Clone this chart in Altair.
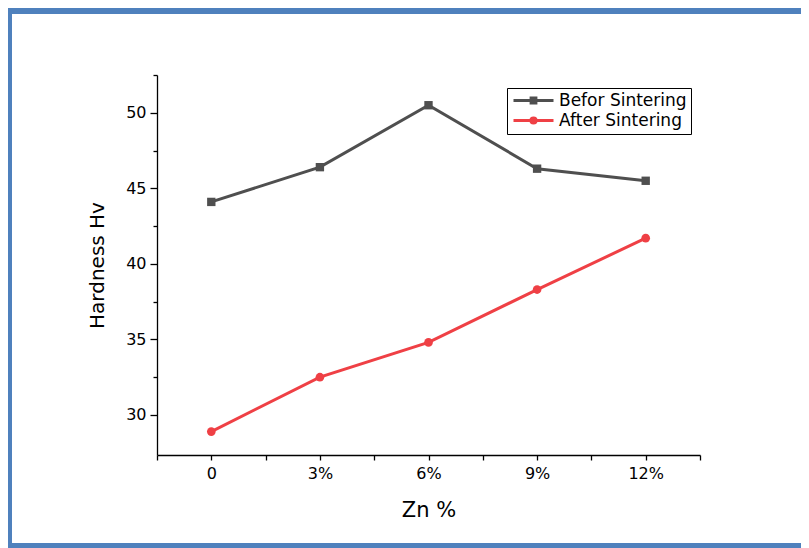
import altair as alt
import pandas as pd

# ---- data ----
zn_labels = ['0', '3%', '6%', '9%', '12%']
befor_sintering = [44.1, 46.4, 50.5, 46.3, 45.5]
after_sintering = [28.9, 32.5, 34.8, 38.3, 41.7]
series_names = ['Befor Sintering', 'After Sintering']
series_colors = ['#4f4f4f', '#ef4045']
x_tick_values = [-0.5, 0, 0.5, 1, 1.5, 2, 2.5, 3, 3.5, 4, 4.5]
y_tick_values = [30, 32.5, 35, 37.5, 40, 42.5, 45, 47.5, 50, 52.5]

rows = []
for i, lab in enumerate(zn_labels):
    rows.append({'idx': i, 'zn': lab, 'series': series_names[0], 'hv': befor_sintering[i]})
    rows.append({'idx': i, 'zn': lab, 'series': series_names[1], 'hv': after_sintering[i]})
df = pd.DataFrame(rows)

FONT = 'DejaVu Sans'
W, H = 543, 380
FRAME = '#4f81bd'

label_arr = '[' + ','.join("'" + l + "'" for l in zn_labels) + ']'

x_enc = alt.X('idx:Q',
              scale=alt.Scale(domain=[-0.5, 4.5], nice=False, zero=False),
              axis=alt.Axis(values=x_tick_values,
                            labelExpr=f"datum.value % 1 == 0 ? {label_arr}[datum.value] : ''",
                            title='Zn %', grid=False, tickSize=5, labelPadding=5,
                            labelFontSize=16, titleFontSize=21, titlePadding=18,
                            labelOverlap=False, labelFlush=False))
y_enc = alt.Y('hv:Q',
              scale=alt.Scale(domain=[27.35, 52.5], nice=False, zero=False),
              axis=alt.Axis(values=y_tick_values,
                            labelExpr="datum.value % 5 == 0 ? datum.label : ''",
                            title='Hardness Hv', grid=False,
                            tickSize={'condition': {'test': 'datum.value % 5 == 0', 'value': 7}, 'value': 4},
                            labelPadding=4,
                            labelFontSize=16, titleFontSize=20, titlePadding=18,
                            labelOverlap=False, labelFlush=False))

base = alt.Chart(df)
b_data = base.transform_filter(alt.datum.series == series_names[0])
a_data = base.transform_filter(alt.datum.series == series_names[1])

line_b = b_data.mark_line(strokeWidth=3, color=series_colors[0]).encode(x=x_enc, y=y_enc)
line_a = a_data.mark_line(strokeWidth=3, color=series_colors[1]).encode(x=x_enc, y=y_enc)
squares = b_data.mark_square(size=70, opacity=1, color=series_colors[0]).encode(x=x_enc, y=y_enc)
circles = a_data.mark_circle(size=75, opacity=1, color=series_colors[1]).encode(x=x_enc, y=y_enc)

# legend carrier: symbols are line + marker paths; its own points sit off-canvas
cscale = alt.Scale(domain=series_names, range=series_colors)
sq_path = 'M-5,0H5M-0.6,-0.6H0.6V0.6H-0.6Z'
ci_path = 'M-5,0H5M0.65,0A0.65,0.65,0,1,1,-0.65,0A0.65,0.65,0,1,1,0.65,0Z'
legend_layer = base.mark_point(filled=True, size=64, strokeWidth=3, opacity=1).encode(
    x=alt.value(-3000), y=alt.value(-3000),
    fill=alt.Fill('series:N', scale=cscale, legend=alt.Legend(title=None)),
    stroke=alt.Stroke('series:N', scale=cscale, legend=alt.Legend(title=None)),
    shape=alt.Shape('series:N', scale=alt.Scale(domain=series_names, range=[sq_path, ci_path]),
                    legend=alt.Legend(title=None)))

one = pd.DataFrame({'a': [0]})
frame_top = alt.Chart(one).mark_rect(color=FRAME).encode(
    x=alt.value(-149), x2=alt.value(660), y=alt.value(-67), y2=alt.value(-61))
frame_left = alt.Chart(one).mark_rect(color=FRAME).encode(
    x=alt.value(-149), x2=alt.value(-145), y=alt.value(-67), y2=alt.value(480))
frame_bottom = alt.Chart(one).mark_rect(color=FRAME).encode(
    x=alt.value(-149), x2=alt.value(660), y=alt.value(468), y2=alt.value(480))

chart = alt.layer(frame_top, frame_left, frame_bottom, line_b, line_a, squares, circles, legend_layer).properties(
    width=W, height=H,
    autosize=alt.AutoSizeParams(type='none'),
    padding={'left': 149, 'top': 67, 'right': 101, 'bottom': 93},
    background='white',
).configure_view(stroke=None).configure_axis(
    labelFont=FONT, titleFont=FONT, labelColor='black', titleColor='black',
    titleFontWeight='normal', domainColor='black', tickColor='black',
    domainWidth=1.3, tickWidth=1.3,
).configure_legend(
    orient='none', legendX=350, legendY=13,
    strokeColor='black', strokeWidth=1, fillColor='white', padding=4, cornerRadius=0,
    labelFont=FONT, labelFontSize=17, labelColor='black', labelLimit=300,
    symbolSize=64, symbolStrokeWidth=3, symbolOffset=14, labelOffset=17, rowPadding=2,
    symbolOpacity=1,
)

chart.save('out.html', embed_options={'renderer': 'svg', 'actions': False})
